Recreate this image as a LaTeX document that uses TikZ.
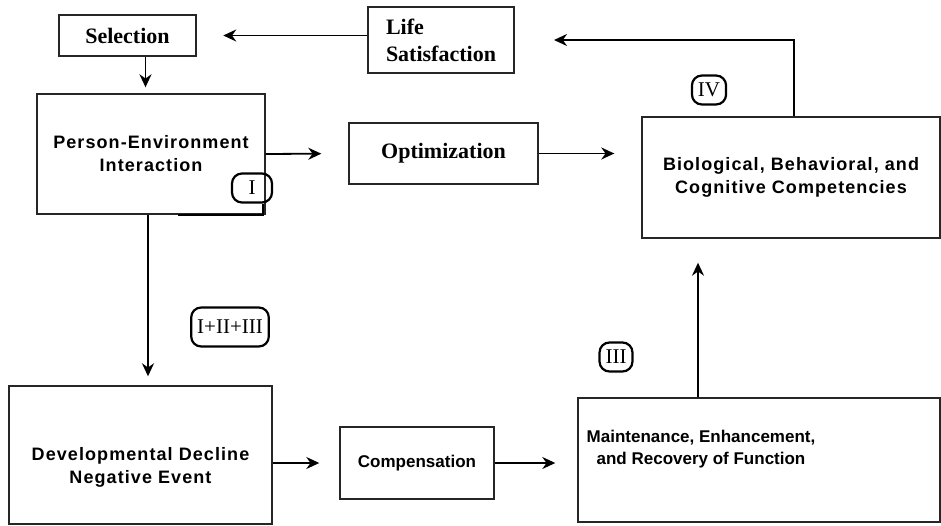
\documentclass[tikz,border=0pt]{standalone}
\usepackage{fontspec}
\setmainfont{Liberation Serif}
\setsansfont{Liberation Sans}
\newfontfamily\widesans[LetterSpace=6]{Liberation Sans}
\usetikzlibrary{calc}
\usetikzlibrary{positioning}
\usetikzlibrary{arrows.meta}

\begin{document}
\begin{tikzpicture}[x=1pt, y=-1pt,
		box/.style={draw=black!85, line width=1.4pt, inner sep=0pt},
		serifbox/.style={box, align=left, font=\fontsize{22}{27}\selectfont\bfseries},
		sansbox/.style={box, align=center, font=\widesans\fontsize{18}{23}\selectfont\bfseries},
		plainlbl/.style={align=center, font=\sffamily\fontsize{17}{22}\selectfont\bfseries},
		widelbl/.style={align=center, font=\widesans\fontsize{18}{23}\selectfont\bfseries},
		badge/.style={draw, line width=2.2pt, rounded corners=10pt, inner xsep=6pt, inner ysep=0pt,
			minimum height=29, font=\fontsize{21}{21}\selectfont},
		arr/.style={line width=1.8pt, -{Stealth[length=13pt,width=12pt]}}]
	\useasboundingbox (0,0) rectangle (941,525);

	\node[serifbox, line width=2.5pt, minimum width=137, minimum height=41] (sel) at (127.5,35.5) {Selection};
	\node[serifbox, line width=2pt, minimum width=146, minimum height=66] (life) at (441,40) {Life\\Satisfaction};
	\node[sansbox, minimum width=228, minimum height=120] (pe) at (151,154) {Person-Environment\\Interaction};
	\node[serifbox, minimum width=189, minimum height=61] (opt) at (443.5,153.5) {Optimization};
	\node[sansbox, minimum width=298, minimum height=121] (bio) at (791,177.5) {Biological, Behavioral, and\\Cognitive Competencies};
	\node[box, minimum width=263, minimum height=138,
		label={[widelbl, yshift=-12]center:{Developmental Decline\\Negative Event}}] (dev) at (140.5,455) {};
	\node[box, plainlbl, minimum width=154, minimum height=72] (comp) at (417,463) {Compensation};
	\node[box, minimum width=362, minimum height=124,
		label={[plainlbl, xshift=-58, yshift=11]center:{Maintenance, Enhancement,\\and Recovery of Function}}] (maint) at (759,460) {};

	% badges
	\node[badge, minimum width=40] (b1) at (252,188) {I};
	\node[badge, minimum height=39] (b123) at (230,327) {I+II+III};
	\node[badge] (b3) at (616,357) {III};
	\node[badge] (b4) at (709,90) {IV};
	\draw[line width=2.2pt] ([xshift=11]b1.south) |- ($(pe.south)+(27,0)$);

	% arrows
	\draw[arr, shorten >=26pt] (life.west |- sel.east) -- (sel.east);
	\draw[arr, shorten >=6pt] ([xshift=18]sel.south) -- ([xshift=18]sel.south |- pe.north);
	\draw[arr, shorten >=27pt] (pe.east) -- (opt.west);
	\draw[arr, shorten >=27pt] (opt.east) -- (opt.east -| bio.west);
	\draw[arr, shorten >=39pt] ([xshift=3]bio.north) |- (life.east);
	\draw[arr, shorten >=9pt] ([xshift=-3]pe.south) -- ([xshift=-3]pe.south |- dev.north);
	\draw[arr, shorten >=20pt] (dev.east |- comp.west) -- (comp.west);
	\draw[arr, shorten >=22pt] (comp.east) -- (maint.west |- comp.east);
	\draw[arr, shorten >=24pt] ([xshift=-61]maint.north) -- ([xshift=-61]maint.north |- bio.south);
\end{tikzpicture}
\end{document}
